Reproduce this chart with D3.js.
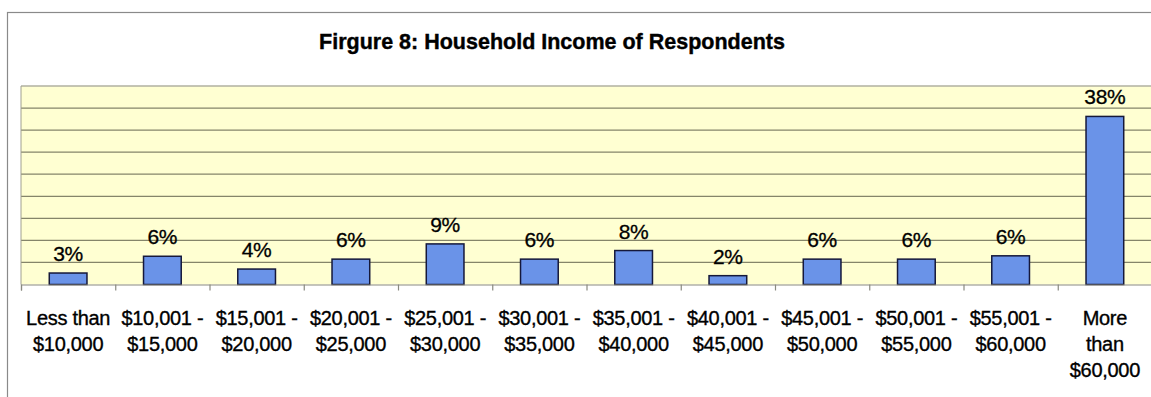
<!DOCTYPE html>
<html><head><meta charset="utf-8">
<script src="https://cdn.jsdelivr.net/npm/d3@7"></script>
<style>
html,body{margin:0;padding:0;background:#fff;}
svg{display:block;}
text{font-family:"Liberation Sans",Arial,sans-serif;fill:#000;}
</style></head>
<body>
<svg id="c" width="1151" height="397"></svg>
<script>
const title = "Firgure 8: Household Income of Respondents";
const categories = [
  ["Less than","$10,000"],["$10,001 -","$15,000"],["$15,001 -","$20,000"],["$20,001 -","$25,000"],
  ["$25,001 -","$30,000"],["$30,001 -","$35,000"],["$35,001 -","$40,000"],["$40,001 -","$45,000"],
  ["$45,001 -","$50,000"],["$50,001 -","$55,000"],["$55,001 -","$60,000"],["More","than","$60,000"]
];
const values = [2.6, 6.4, 3.5, 5.75, 9.2, 5.75, 7.7, 2.0, 5.75, 5.75, 6.5, 38.1];
const valueLabels = ["3%","6%","4%","6%","9%","6%","8%","2%","6%","6%","6%","38%"];
const yTicks = [0,5,10,15,20,25,30,35,40,45];

const svg = d3.select("#c");
const L = 21, R = 1152, T = 86, B = 284.5;

// outer chart border
svg.append("rect").attr("x",7.5).attr("y",12.5).attr("width",1160).attr("height",400)
  .attr("fill","#fff").attr("stroke","#8a8a8a").attr("stroke-width",1.2);

const x = d3.scaleBand().domain(d3.range(categories.length)).range([L,R]).paddingInner(0.6).paddingOuter(0.3);
const y = d3.scaleLinear().domain([0,45]).range([B,T]);

// plot background
svg.append("rect").attr("x",L).attr("y",T).attr("width",R-L).attr("height",B-T)
  .attr("fill","#FFFFD2");

// gridlines
svg.append("g").selectAll("line").data(yTicks.slice(1)).join("line")
  .attr("x1",L).attr("x2",R).attr("y1",d=>y(d)).attr("y2",d=>y(d))
  .attr("stroke",d=>d===45?"#b0b0a0":"#85856a").attr("stroke-width",1.3);

// left plot edge
svg.append("line").attr("x1",L).attr("x2",L).attr("y1",T).attr("y2",B).attr("stroke","#a0a090").attr("stroke-width",1);

// bars
svg.append("g").selectAll("rect").data(values).join("rect")
  .attr("x",(d,i)=>x(i)).attr("width",x.bandwidth())
  .attr("y",d=>y(d)).attr("height",d=>y(0)-y(d))
  .attr("fill","#6A93E8").attr("stroke","#15183a").attr("stroke-width",1.5);

// x axis
const xb = d3.scaleLinear().domain([0,categories.length]).range([L,R]);
const ax = svg.append("g").attr("transform",`translate(0,${B})`)
  .call(d3.axisBottom(xb).tickValues(d3.range(categories.length+1)).tickSize(6).tickFormat(""));
ax.select(".domain").attr("stroke","#8a8a80").attr("stroke-width",1.2);
ax.selectAll(".tick line").attr("stroke","#8a8a80").attr("stroke-width",1.2);

// category labels
const lab = svg.append("g").selectAll("text").data(categories).join("text")
  .attr("x",(d,i)=>x(i)+x.bandwidth()/2).attr("y",325)
  .attr("text-anchor","middle").attr("font-size",20).attr("letter-spacing","-0.3px")
  .attr("stroke","#000").attr("stroke-width",0.35);
lab.selectAll("tspan").data(d=>d).join("tspan")
  .attr("x",function(){return this.parentNode.getAttribute("x");})
  .attr("dy",(d,i)=>i===0?0:26).text(d=>d);

// value labels
svg.append("g").selectAll("text").data(values).join("text")
  .attr("x",(d,i)=>x(i)+x.bandwidth()/2).attr("y",d=>y(d)-12)
  .attr("text-anchor","middle").attr("font-size",21).attr("letter-spacing","-0.3px")
  .attr("stroke","#000").attr("stroke-width",0.3)
  .text((d,i)=>valueLabels[i]);

// title
svg.append("text").attr("x",552).attr("y",49).attr("text-anchor","middle")
  .attr("font-size",21.5).attr("font-weight","bold").attr("stroke","#000").attr("stroke-width",0.4)
  .text(title);
</script>
</body></html>
